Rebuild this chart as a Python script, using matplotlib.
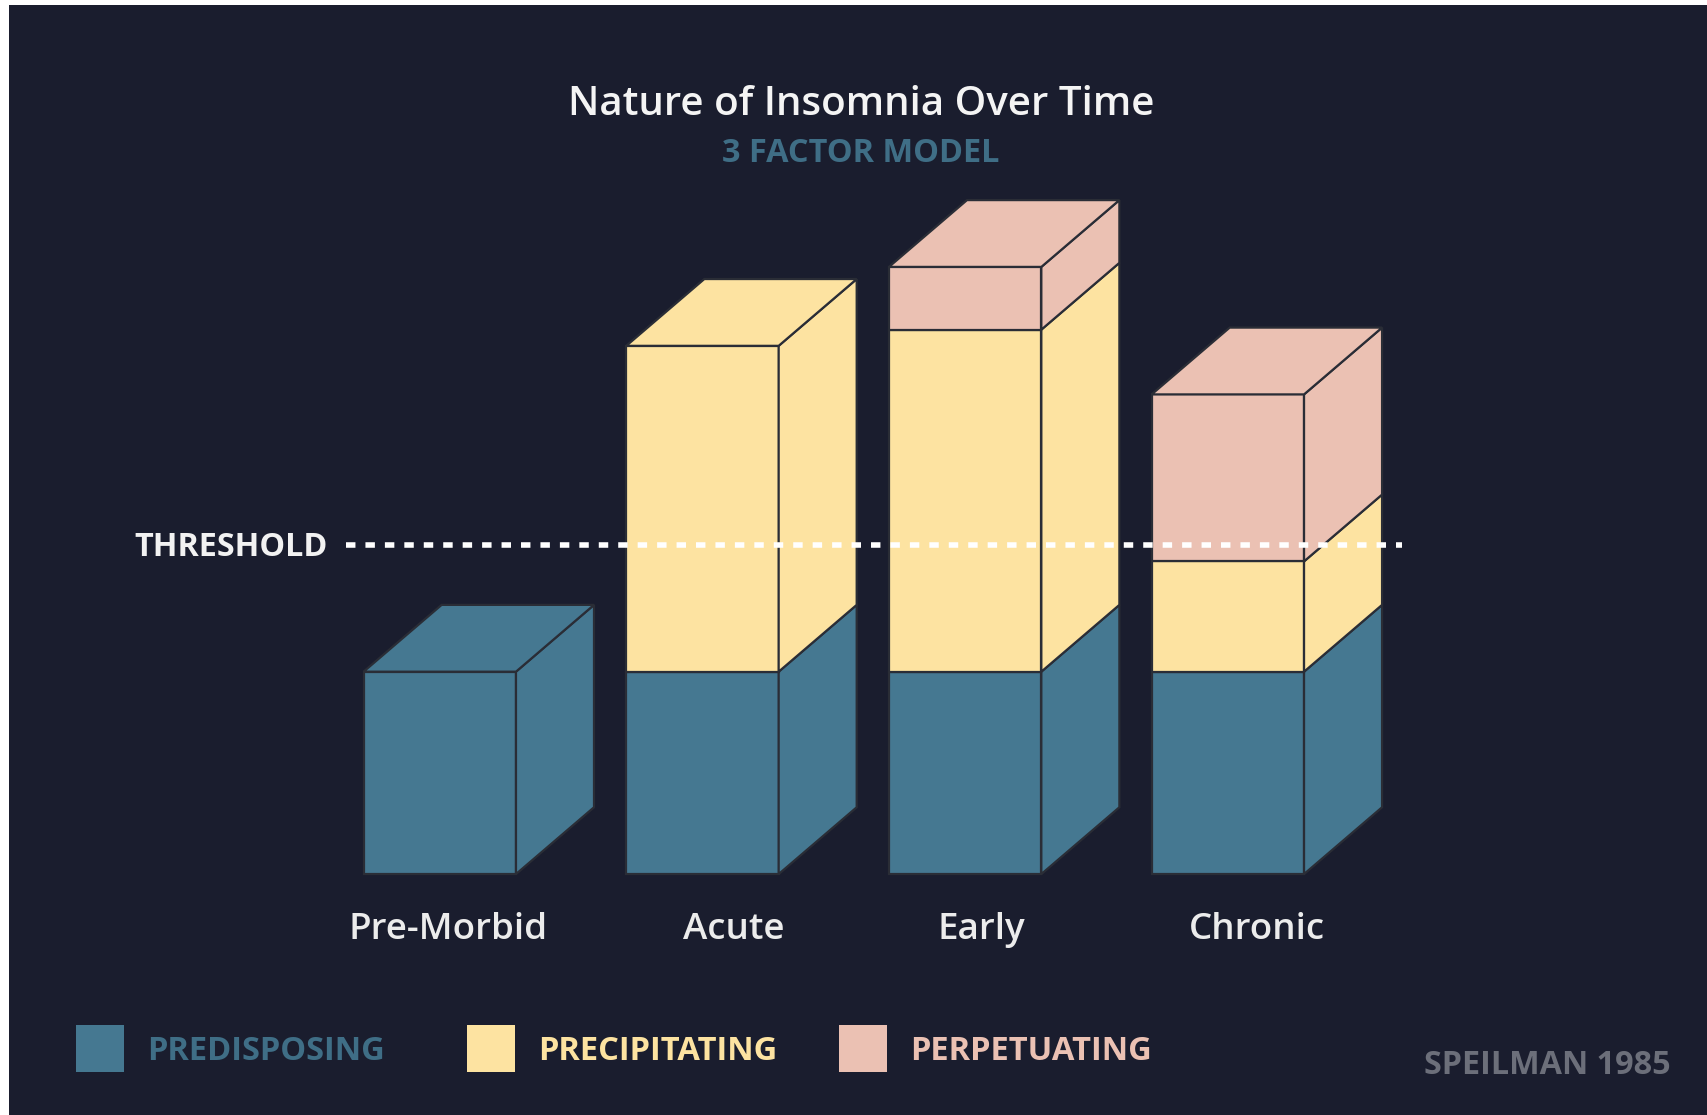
import numpy as np
import matplotlib.pyplot as plt
from matplotlib.patches import Polygon, Rectangle

#%% Data

stages = ['Pre-Morbid', 'Acute', 'Early', 'Chronic']
predisposing = [20.0, 20.0, 20.0, 20.0]
precipitating = [0.0, 32.2, 33.8, 10.9]
perpetuating = [0.0, 0.0, 6.2, 16.5]
threshold = 32.5

factor_names = ['PREDISPOSING', 'PRECIPITATING', 'PERPETUATING']
factor_colors = ['#457891', '#fde3a1', '#ebc1b3']

#%% Style

plt.rcParams['font.family'] = ['Open Sans', 'DejaVu Sans']
bg = '#1a1d2e'
edge = '#2a2d36'
bar_w = 0.58
depth_x = 0.297
depth_y = 6.6
# labels are not exactly centred under the boxes in the original
label_nudge = [0.03, 0.12, 0.06, 0.11]


# one stacked block: front face, right side, optionally the top face
def draw_block(ax, x, y0, h, color, top):
    x0, x1 = x - bar_w / 2, x + bar_w / 2
    y1 = y0 + h
    ax.add_patch(Rectangle((x0, y0), bar_w, h, fc=color, ec=edge, lw=1.6, zorder=2))
    side = [(x1, y0), (x1 + depth_x, y0 + depth_y), (x1 + depth_x, y1 + depth_y), (x1, y1)]
    ax.add_patch(Polygon(side, closed=True, fc=color, ec=edge, lw=1.6, zorder=2))
    if top:
        lid = [(x0, y1), (x1, y1), (x1 + depth_x, y1 + depth_y), (x0 + depth_x, y1 + depth_y)]
        ax.add_patch(Polygon(lid, closed=True, fc=color, ec=edge, lw=1.6, zorder=2))


#%% Plot

fig = plt.figure(figsize=(17.07, 11.15), dpi=100, facecolor='white')
ax = fig.add_axes([9 / 1707, 0, 1 - 9 / 1707, 1 - 5 / 1115])
ax.set_facecolor(bg)
ax.set_xlim(-1.640, 4.824)
ax.set_ylim(-23.81, 85.88)
ax.set_xticks([])
ax.set_yticks([])
for s in ax.spines.values():
    s.set_visible(False)

xs = np.arange(len(stages))
for i, x in enumerate(xs):
    layers = [predisposing[i], precipitating[i], perpetuating[i]]
    layers = [(v, c) for v, c in zip(layers, factor_colors) if v > 0]
    base = 0.0
    for k, (v, c) in enumerate(layers):
        draw_block(ax, x, base, v, c, top=(k == len(layers) - 1))
        base += v
    ax.text(x + label_nudge[i], -5.57, stages[i], ha='center', va='center',
            fontsize=26.5, color='#ececec', fontweight='semibold')

# threshold line over the bars
ax.plot([-0.357, 3.663], [threshold, threshold], color='white', lw=4.0,
        dashes=(1.7, 1.8), solid_capstyle='butt', dash_capstyle='butt', zorder=5)
ax.text(-0.425, threshold - 0.2, 'THRESHOLD', ha='right', va='center',
        fontsize=23.3, color='#f2f2f2', fontweight='bold')

# titles
fig.text(861 / 1707, 1 - 105 / 1115, 'Nature of Insomnia Over Time', ha='center', va='center',
         fontsize=29, color='#f4f4f4', fontweight='semibold')
fig.text(861 / 1707, 1 - 154 / 1115, '3 FACTOR MODEL', ha='center', va='center',
         fontsize=23.4, color='#3f6e86', fontweight='bold')

# legend
leg_x = [76, 467, 839]
for lx, name, c in zip(leg_x, factor_names, factor_colors):
    fig.patches.append(Rectangle((lx / 1707, 1 - 1072 / 1115), 48 / 1707, 47 / 1115,
                                 transform=fig.transFigure, fc=c, ec='none'))
    fig.text((lx + 71) / 1707, 1 - 1051 / 1115, name, ha='left', va='center',
             fontsize=23.5, color=c if c != factor_colors[0] else '#3f6e86', fontweight='bold')

fig.text(1671 / 1707, 1 - 1065 / 1115, 'SPEILMAN 1985', ha='right', va='center',
         fontsize=23.3, color='#6c6f7a', fontweight='bold')

plt.savefig('out.png', dpi=100, facecolor=fig.get_facecolor())
